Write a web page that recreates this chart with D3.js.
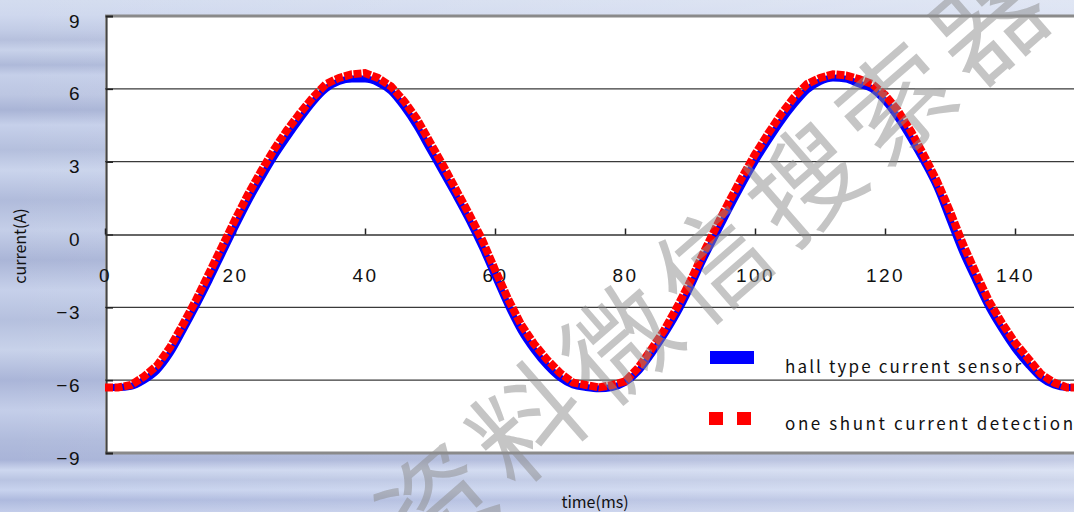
<!DOCTYPE html>
<html>
<head>
<meta charset="utf-8">
<script src="https://cdn.jsdelivr.net/npm/d3@7"></script>
<style>
  html, body { margin: 0; padding: 0; overflow: hidden; }
  svg { display: block; }
</style>
</head>
<body>
<div id="chart"></div>
<script>
// data (time in ms, current in A)
var times = [0,2,4,6,8,10,12,14,16,18,20,22,24,26,28,30,32,34,36,38,40,42,44,46,48,50,
  52,54,56,58,60,62,64,66,68,70,72,74,76,78,80,82,84,86,88,90,92,94,96,98,100,
  102,104,106,108,110,112,114,116,118,120,122,124,126,128,130,132,134,136,138,140,
  142,144,146,148,150];
var hallSensor = [-6.3,-6.3,-6.25,-6.0,-5.6,-4.9,-3.95,-2.95,-1.9,-0.8,0.3,1.35,2.3,3.2,4.0,4.75,5.45,6.0,6.3,6.4,6.4,6.25,5.9,5.25,4.45,3.5,
  2.55,1.6,0.6,-0.5,-1.7,-2.9,-3.95,-4.75,-5.4,-5.9,-6.2,-6.3,-6.35,-6.3,-6.1,-5.65,-4.95,-4.15,-3.25,-2.2,-1.05,0.0,1.05,2.05,3.0,
  3.85,4.65,5.35,5.95,6.3,6.45,6.4,6.2,6.0,5.5,4.8,3.95,3.0,1.95,0.6,-0.75,-1.9,-3.0,-3.9,-4.7,
  -5.35,-5.9,-6.2,-6.3,-6.3];
var oneShunt = [-6.3,-6.3,-6.2,-5.85,-5.4,-4.65,-3.7,-2.7,-1.6,-0.5,0.6,1.65,2.6,3.5,4.3,5.0,5.65,6.2,6.45,6.6,6.65,6.45,6.1,5.5,4.75,3.8,
  2.85,1.85,0.85,-0.2,-1.45,-2.65,-3.7,-4.5,-5.15,-5.7,-6.1,-6.2,-6.3,-6.2,-6.05,-5.5,-4.75,-3.95,-3.0,-1.95,-0.8,0.3,1.35,2.35,3.3,
  4.15,4.95,5.65,6.2,6.45,6.6,6.55,6.4,6.2,5.75,5.1,4.25,3.25,2.2,0.95,-0.4,-1.6,-2.75,-3.65,-4.45,
  -5.1,-5.75,-6.1,-6.3,-6.3];
var seriesNames = ["hall type current sensor", "one shunt current detection"];
var xTicks = [0,20,40,60,80,100,120,140];
var yTicks = [-9,-6,-3,0,3,6,9];

var W = 1074, H = 512;
var margin = {top: 16, left: 106, bottom: 453, right: 1080};

var svg = d3.select("#chart").append("svg")
  .attr("width", W).attr("height", H);

var defs = svg.append("defs");

// striped blue background
var bgStops = [[0,"#d3dcef"],[15,"#cfd8ee"],[30,"#c2cce6"],[40,"#b6c0dd"],[50,"#c8d2ea"],[65,"#aeb9d9"],
  [75,"#c5cfe9"],[95,"#bcc6e2"],[110,"#a9b4d6"],[125,"#c6d0ea"],[150,"#b4bfdd"],[170,"#cad4ec"],
  [200,"#b0bbdb"],[230,"#c4cee8"],[260,"#aab5d7"],[290,"#c6d0ea"],[320,"#b5c0de"],[350,"#c8d2ea"],
  [380,"#aab5d8"],[410,"#c4cee9"],[440,"#b0bbdc"],[460,"#a9b4d8"],[470,"#cdd7ef"],[480,"#b9c4e2"],
  [490,"#c8d3ee"],[500,"#aebade"],[512,"#c3cdea"]];
var bg = defs.append("linearGradient").attr("id", "bg")
  .attr("x1", 0).attr("y1", 0).attr("x2", 0).attr("y2", 1);
bg.selectAll("stop").data(bgStops).enter().append("stop")
  .attr("offset", function(d) { return d[0] / H; })
  .attr("stop-color", function(d) { return d[1]; });
var sheen = defs.append("linearGradient").attr("id", "sheen")
  .attr("x1", 0).attr("y1", 0).attr("x2", 1).attr("y2", 0);
sheen.append("stop").attr("offset", 0).attr("stop-color", "#fff").attr("stop-opacity", 0);
sheen.append("stop").attr("offset", 1).attr("stop-color", "#fff").attr("stop-opacity", 0.3);

svg.append("rect").attr("width", W).attr("height", H).attr("fill", "url(#bg)");
svg.append("rect").attr("width", W).attr("height", H).attr("fill", "url(#sheen)");

// scales
var x = d3.scaleLinear().domain([0, 150]).range([105, 1080]);
var y = d3.scaleLinear().domain([-9, 9]).range([margin.bottom, margin.top]);

// plot area
svg.append("rect")
  .attr("x", x(0)).attr("y", y(9))
  .attr("width", x(150) - x(0)).attr("height", y(-9) - y(9))
  .attr("fill", "#fff");

// gridlines
svg.append("g").selectAll("line")
  .data(yTicks.filter(function(d) { return Math.abs(d) < 9 && d !== 0; }))
  .enter().append("line")
    .attr("x1", x(0)).attr("x2", x(150))
    .attr("y1", function(d) { return y(d); })
    .attr("y2", function(d) { return y(d); })
    .attr("stroke", "#3a3a3a").attr("stroke-width", 1.4);

// frame top / bottom
svg.append("line").attr("x1", x(0)).attr("x2", x(150)).attr("y1", y(9)).attr("y2", y(9))
  .attr("stroke", "#8a8a8a").attr("stroke-width", 3);
svg.append("line").attr("x1", x(0)).attr("x2", x(150)).attr("y1", y(-9)).attr("y2", y(-9))
  .attr("stroke", "#8a8a8a").attr("stroke-width", 3);

// Y axis
var yAxis = svg.append("g")
  .attr("transform", "translate(" + margin.left + ",0)")
  .call(d3.axisLeft(y).tickValues(yTicks).tickSize(-7).tickPadding(25)
    .tickFormat(function(d) { return d < 0 ? "\u2212" + Math.abs(d) : d; }));
yAxis.select(".domain").attr("stroke", "#444").attr("stroke-width", 2.2);
yAxis.selectAll(".tick line").attr("stroke", "#222").attr("stroke-width", 1.6);
yAxis.selectAll("text")
  .attr("dy", "0.9em").attr("y", -6)
  .attr("font-family", "'Liberation Sans', Arial, sans-serif")
  .attr("font-size", 19).attr("letter-spacing", 1.5).attr("fill", "#111");

// X axis on the zero line
var xAxis = svg.append("g")
  .attr("transform", "translate(0," + y(0) + ")")
  .call(d3.axisBottom(x).tickValues(xTicks).tickSize(-6).tickPadding(34).tickSizeOuter(0));
xAxis.select(".domain").attr("stroke", "#333").attr("stroke-width", 1.5);
xAxis.selectAll(".tick line").attr("stroke", "#222").attr("stroke-width", 1.5);
xAxis.selectAll("text")
  .attr("font-family", "'Liberation Sans', Arial, sans-serif")
  .attr("font-size", 19).attr("letter-spacing", 2.5).attr("fill", "#111");

// axis titles
svg.append("text")
  .attr("x", 595).attr("y", 508)
  .attr("text-anchor", "middle")
  .attr("font-family", "'Noto Sans CJK JP', sans-serif")
  .attr("font-size", 16).attr("fill", "#111")
  .text("time(ms)");
svg.append("text")
  .attr("transform", "translate(26,246) rotate(-90)")
  .attr("text-anchor", "middle")
  .attr("font-family", "'Noto Sans CJK JP', sans-serif")
  .attr("font-size", 16).attr("fill", "#111")
  .text("current(A)");

// lines
var hallData = times.map(function(t, i) { return [t, hallSensor[i]]; });
var shuntData = times.map(function(t, i) { return [t, oneShunt[i]]; });

var line = d3.line()
  .x(function(d) { return x(d[0]); })
  .y(function(d) { return y(d[1]); });

svg.append("path")
  .datum(hallData)
  .attr("d", line.curve(d3.curveMonotoneX))
  .attr("fill", "none").attr("stroke", "#0000ff").attr("stroke-width", 7);

svg.append("path")
  .datum(shuntData)
  .attr("d", line.curve(d3.curveLinear))
  .attr("fill", "none").attr("stroke", "#ff0000").attr("stroke-width", 8)
  .attr("stroke-dasharray", "8,1.5");

// legend
var legend = svg.append("g");
legend.append("rect").attr("x", 710).attr("y", 351).attr("width", 44).attr("height", 13)
  .attr("fill", "#0000ff");
legend.selectAll("rect.sq").data([709, 737]).enter().append("rect")
  .attr("class", "sq")
  .attr("x", function(d) { return d; }).attr("y", 412)
  .attr("width", 14).attr("height", 13).attr("fill", "#ff0000");
legend.selectAll("text").data(seriesNames).enter().append("text")
  .attr("x", 785)
  .attr("y", function(d, i) { return i === 0 ? 373 : 430; })
  .attr("font-family", "'Noto Sans CJK JP', sans-serif")
  .attr("font-size", 17).attr("fill", "#111")
  .attr("textLength", function(d, i) { return i === 0 ? 236 : 288; })
  .attr("lengthAdjust", "spacing")
  .text(function(d) { return d; });

// watermark overlay
svg.append("text")
  .attr("transform", "translate(712,254) rotate(-41)")
  .attr("text-anchor", "middle")
  .attr("dominant-baseline", "central")
  .attr("font-family", "'Noto Sans CJK SC', sans-serif")
  .attr("font-size", 110).attr("letter-spacing", 12)
  .attr("fill", "#8c8c8c").attr("fill-opacity", 0.5)
  .text("资料微信搜索器");
</script>
</body>
</html>
